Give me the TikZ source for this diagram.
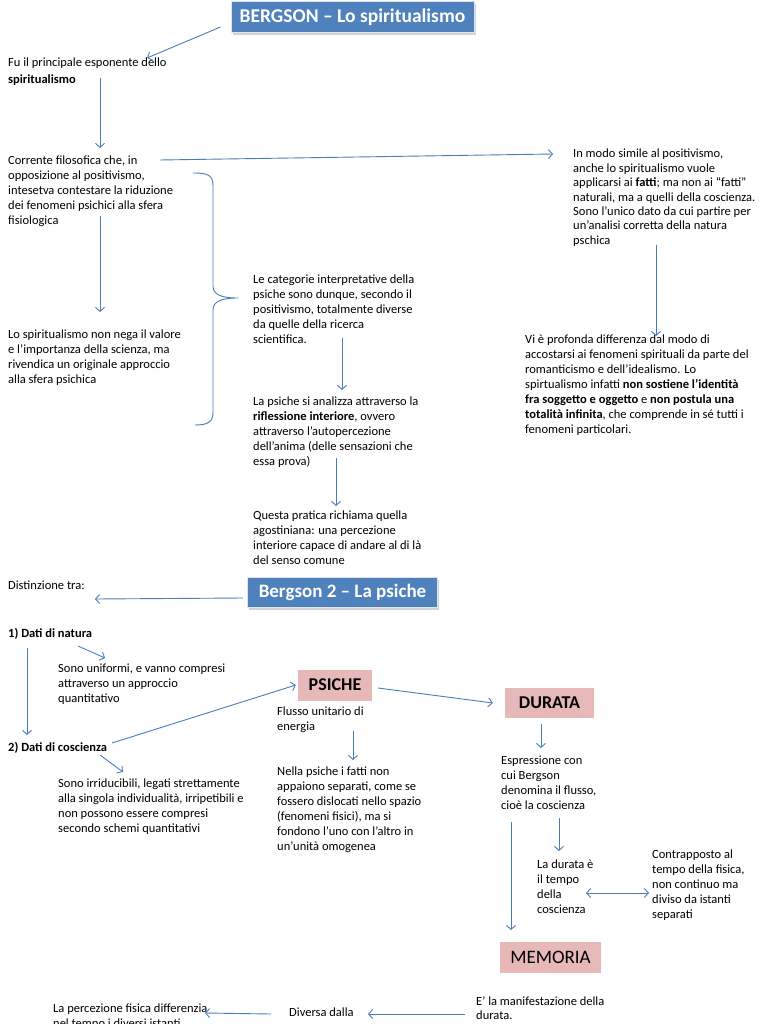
\documentclass[tikz,border=0pt]{standalone}
\usepackage{fontspec}
\setmainfont{Carlito}
\usetikzlibrary{arrows.meta,shadows}
\definecolor{arrblue}{HTML}{4A7EBB}
\definecolor{titleblue}{HTML}{4F81BD}
\definecolor{pinkbox}{HTML}{E6B9B8}
\tikzset{
  arr/.style={draw=arrblue, line width=0.9pt, -{Straight Barb[length=4pt,width=9pt]}},
  darr/.style={draw=arrblue, line width=0.9pt, {Straight Barb[length=4pt,width=9pt]}-{Straight Barb[length=4pt,width=9pt]}},
  txt/.style={anchor=north west, inner sep=0pt, align=left, font=\fontsize{12.5}{15}\selectfont},
  txtr/.style={txt, font=\fontsize{12.5}{14.4}\selectfont},
  titlebox/.style={fill=titleblue, draw=white!80!titleblue, line width=1pt, text=white,
    font=\fontsize{19.5}{21}\selectfont\bfseries, inner sep=0pt,
    drop shadow={opacity=0.35, shadow xshift=1.5pt, shadow yshift=-2pt}},
  pinkb/.style={fill=pinkbox, draw=none, inner sep=0pt, font=\fontsize{19}{21}\selectfont}
}
\begin{document}
\begin{tikzpicture}[x=1pt,y=-1pt]
\path[use as bounding box, fill=white] (0,0) rectangle (768,1024);

% ---------- titles / boxes
\node[titlebox, minimum width=243pt, minimum height=31pt] (t1) at (352.5,17.5) {BERGSON -- Lo spiritualismo};
\node[titlebox, minimum width=190pt, minimum height=30pt, font=\fontsize{19}{21}\selectfont\bfseries] (t2) at (342.5,592.5) {Bergson 2 -- La psiche};
\node[pinkb, minimum width=74pt, minimum height=31pt, font=\fontsize{18}{20}\selectfont\bfseries] (psiche) at (335,685) {PSICHE};
\node[pinkb, minimum width=89pt, minimum height=30pt, font=\fontsize{18}{20}\selectfont\bfseries] (durata) at (549.5,703) {DURATA};
\node[pinkb, minimum width=101pt, minimum height=31pt] (memoria) at (550.5,957.5) {MEMORIA};

% ---------- texts (top)
\node[txt, font=\fontsize{12.5}{17}\selectfont] (fu) at (8,58) {Fu il principale esponente dello\\\textbf{spiritualismo}};
\node[txt] (corr) at (8,156) {Corrente filosofica che, in\\opposizione al positivismo,\\intesetva contestare la riduzione\\dei fenomeni psichici alla sfera\\fisiologica};
\node[txt] (lospi) at (8,330) {Lo spiritualismo non nega il valore\\e l’importanza della scienza, ma\\rivendica un originale approccio\\alla sfera psichica};
\node[txt] (cat) at (253,275) {Le categorie interpretative della\\psiche sono dunque, secondo il\\positivismo, totalmente diverse\\da quelle della ricerca\\scientifica.};
\node[txt] (psi) at (253,397) {La psiche si analizza attraverso la\\\textbf{riflessione interiore}, ovvero\\attraverso l’autopercezione\\dell’anima (delle sensazioni che\\essa prova)};
\node[txt] (quest) at (253,511) {Questa pratica richiama quella\\agostiniana: una percezione\\interiore capace di andare al di là\\del senso comune};
\node[txtr] (modo) at (573,149) {In modo simile al positivismo,\\anche lo spiritualismo vuole\\applicarsi ai \textbf{fatti}; ma non ai “fatti”\\naturali, ma a quelli della coscienza.\\Sono l’unico dato da cui partire per\\un’analisi corretta della natura\\pschica};
\node[txt] (vie) at (525,335) {Vi è profonda differenza dal modo di\\accostarsi ai fenomeni spirituali da parte del\\romanticismo e dell’idealismo. Lo\\spirtualismo infatti \textbf{non sostiene l’identità}\\\textbf{fra soggetto e oggetto} e \textbf{non postula una}\\\textbf{totalità infinita}, che comprende in sé tutti i\\fenomeni particolari.};

% ---------- texts (bottom)
\node[txt] (dist) at (8,581) {Distinzione tra:};
\node[txt] (dn) at (8,628) {\textbf{1) Dati di natura}};
\node[txt] (unif) at (58,664) {Sono uniformi, e vanno compresi\\attraverso un approccio\\quantitativo};
\node[txt] (dc) at (8,742) {\textbf{2) Dati di coscienza}};
\node[txt] (irr) at (58,779) {Sono irriducibili, legati strettamente\\alla singola individualità, irripetibili e\\non possono essere compresi\\secondo schemi quantitativi};
\node[txt] (flusso) at (277,707) {Flusso unitario di\\energia};
\node[txt] (nella) at (277,767) {Nella psiche i fatti non\\appaiono separati, come se\\fossero dislocati nello spazio\\(fenomeni fisici), ma si\\fondono l’uno con l’altro in\\un’unità omogenea};
\node[txt] (espr) at (501,756) {Espressione con\\cui Bergson\\denomina il flusso,\\cioè la coscienza};
\node[txt] (ladur) at (537,860) {La durata è\\il tempo\\della\\coscienza};
\node[txt] (contr) at (652,850) {Contrapposto al\\tempo della fisica,\\non continuo ma\\diviso da istanti\\separati};
\node[txtr] (eman) at (476,996) {E’ la manifestazione della\\durata.};
\node[txt] (divd) at (289,1008) {Diversa dalla};
\node[txtr] (perc) at (53,1004) {La percezione fisica differenzia\\nel tempo i diversi istanti};

% ---------- connector end points
\coordinate (a1e) at (147,58);
\coordinate (a2s) at (100,78);   \coordinate (a2e) at (100,148);
\coordinate (a3s) at (160,160);  \coordinate (a3e) at (553,154);
\coordinate (a4s) at (100,216);  \coordinate (a4e) at (100,312);
\coordinate (a5s) at (342,338);  \coordinate (a5e) at (342,390);
\coordinate (a6s) at (336,458);  \coordinate (a6e) at (336,506);
\coordinate (a7s) at (656,245);  \coordinate (a7e) at (656,336);
\coordinate (a8e) at (95,599);
\coordinate (a9s) at (78,646);   \coordinate (a9e) at (105,658);
\coordinate (a10s) at (27,648);  \coordinate (a10e) at (27,735);
\coordinate (a11s) at (112,743);
\coordinate (a13s) at (100,755); \coordinate (a13e) at (123,772);
\coordinate (a14s) at (353,731); \coordinate (a14e) at (353,760);
\coordinate (a15e) at (541,748);
\coordinate (a16s) at (559,818); \coordinate (a16e) at (559,851);
\coordinate (a17s) at (511,822); \coordinate (a17e) at (511,930);
\coordinate (a18s) at (586,893); \coordinate (a18e) at (649,893);
\coordinate (a19s) at (465,1014); \coordinate (a19e) at (368,1014);
\coordinate (a20s) at (271,1014); \coordinate (a20e) at (205,1013);

% ---------- connectors
\draw[arr] ([xshift=-10pt,yshift=-9.5pt]t1.west) -- (a1e);
\draw[arr] (a2s) -- (a2e);
\draw[arr] (a3s) -- (a3e);
\draw[arr] (a4s) -- (a4e);
\draw[arr] (a5s) -- (a5e);
\draw[arr] (a6s) -- (a6e);
\draw[arr] (a7s) -- (a7e);
\draw[arr] ([xshift=-4pt,yshift=-5.5pt]t2.west) -- (a8e);
\draw[arr] (a9s) -- (a9e);
\draw[arr] (a10s) -- (a10e);
\draw[arr] (a11s) -- ([xshift=-2pt]psiche.west);
\draw[arr] ([xshift=6pt,yshift=-3pt]psiche.east) -- ([xshift=-12pt]durata.west);
\draw[arr] (a13s) -- (a13e);
\draw[arr] (a14s) -- (a14e);
\draw[arr] ([xshift=-8.5pt,yshift=-6pt]durata.south) -- (a15e);
\draw[arr] (a16s) -- (a16e);
\draw[arr] (a17s) -- (a17e);
\draw[darr] (a18s) -- (a18e);
\draw[arr] (a19s) -- (a19e);
\draw[arr] (a20s) -- (a20e);

% ---------- brace
\draw[arrblue, line width=0.9pt]
  (193,173) .. controls (208,173) and (213,175) .. (213,186)
  -- (213,286) .. controls (213,295) and (222,298) .. (238,298)
  .. controls (222,298) and (213,301) .. (213,310)
  -- (213,412) .. controls (213,422) and (208,425) .. (195,425);
\end{tikzpicture}
\end{document}
